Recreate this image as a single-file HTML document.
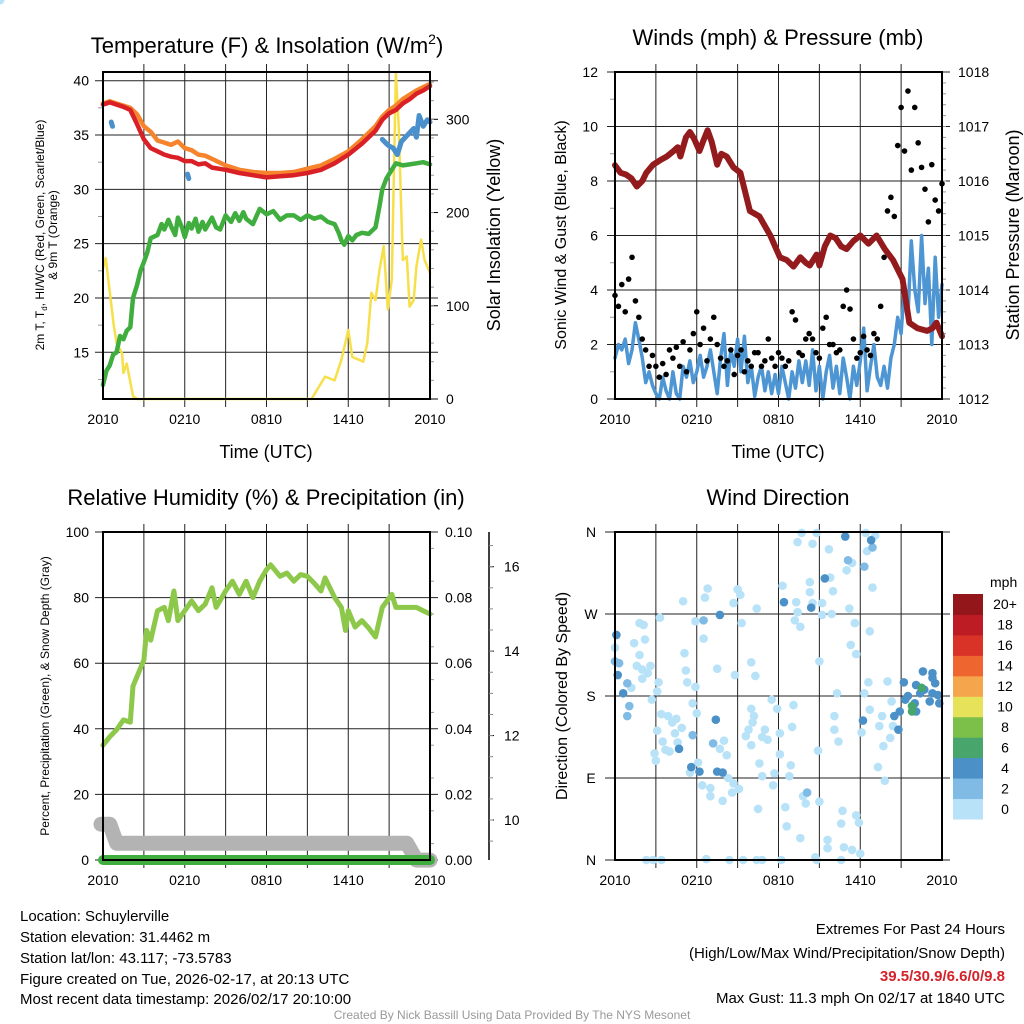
<!DOCTYPE html>
<html><head><meta charset="utf-8">
<style>
html,body{margin:0;padding:0;background:#fff;}
svg{display:block;font-family:"Liberation Sans",Arial,sans-serif;}
</style></head>
<body>
<svg id="c" width="1024" height="1024" viewBox="0 0 1024 1024" xmlns="http://www.w3.org/2000/svg">
<rect x="0" y="0" width="1024" height="1024" fill="#fff"/>
<text x="267" y="53" font-size="22" text-anchor="middle">Temperature (F) &amp; Insolation (W/m<tspan font-size="14" dy="-9">2</tspan><tspan dy="9">)</tspan></text>
<text x="778" y="45" font-size="22" text-anchor="middle">Winds (mph) &amp; Pressure (mb)</text>
<text x="266" y="505" font-size="22" text-anchor="middle">Relative Humidity (%) &amp; Precipitation (in)</text>
<text x="778" y="505" font-size="22" text-anchor="middle">Wind Direction</text>
<text x="266" y="458" font-size="18" text-anchor="middle">Time (UTC)</text>
<text x="778" y="458" font-size="18" text-anchor="middle">Time (UTC)</text>
<text transform="translate(44,235) rotate(-90)" font-size="12" text-anchor="middle">2m T, T<tspan font-size="8" dy="3">d</tspan><tspan dy="-3">, HI/WC (Red, Green, Scarlet/Blue)</tspan></text>
<text transform="translate(57,235) rotate(-90)" font-size="12" text-anchor="middle">&amp; 9m T (Orange)</text>
<text transform="translate(500,235) rotate(-90)" font-size="18" text-anchor="middle">Solar Insolation (Yellow)</text>
<text transform="translate(566,235) rotate(-90)" font-size="16" text-anchor="middle">Sonic Wind &amp; Gust (Blue, Black)</text>
<text transform="translate(1019,235) rotate(-90)" font-size="18" text-anchor="middle">Station Pressure (Maroon)</text>
<text transform="translate(49,696) rotate(-90)" font-size="12" text-anchor="middle">Percent, Precipitation (Green), &amp; Snow Depth (Gray)</text>
<text transform="translate(567,696) rotate(-90)" font-size="16" text-anchor="middle">Direction (Colored By Speed)</text>
<g font-size="15">
<text x="20" y="921">Location: Schuylerville</text>
<text x="20" y="942">Station elevation: 31.4462 m</text>
<text x="20" y="963">Station lat/lon: 43.117; -73.5783</text>
<text x="20" y="984">Figure created on Tue, 2026-02-17, at 20:13 UTC</text>
<text x="20" y="1004">Most recent data timestamp: 2026/02/17 20:10:00</text>
</g>
<g font-size="15" text-anchor="end">
<text x="1005" y="934">Extremes For Past 24 Hours</text>
<text x="1005" y="958">(High/Low/Max Wind/Precipitation/Snow Depth)</text>
<text x="1005" y="981" font-weight="bold" fill="#d3222a">39.5/30.9/6.6/0/9.8</text>
<text x="1005" y="1003">Max Gust: 11.3 mph On 02/17 at 1840 UTC</text>
</g>
<text x="512" y="1019" font-size="12" fill="#999" text-anchor="middle">Created By Nick Bassill Using Data Provided By The NYS Mesonet</text>
</svg>
<script>
const tempHours = [0,0.5,1,1.5,2,2.5,3,3.5,4,4.5,5,5.5,6,6.5,7,7.5,8,9,10,11,12,13,14,15,16,17,18,19,20,20.5,21,21.5,22,22.5,23,23.5,24];
const airTemp = [37.8,38.0,37.8,37.6,37.3,36.0,34.6,33.8,33.5,33.2,33.0,32.9,32.6,32.6,32.3,32.4,32.0,31.8,31.5,31.3,31.1,31.2,31.3,31.5,31.8,32.4,33.2,34.2,35.4,36.4,37.0,37.3,37.9,38.3,38.8,39.1,39.5];
const temp9m = [37.9,38.1,37.9,37.7,37.5,36.9,35.8,35.3,34.5,34.3,34.1,34.4,33.8,33.6,33.2,33.1,32.8,32.2,31.8,31.6,31.5,31.5,31.6,31.9,32.2,32.8,33.5,34.6,35.8,36.7,37.3,37.7,38.3,38.7,39.1,39.4,39.7];
const dewHours = [0,0.25,0.5,0.75,1,1.25,1.5,1.75,2,2.2,2.5,2.75,3,3.25,3.5,4,4.3,4.5,4.8,5,5.3,5.5,5.8,6,6.3,6.5,6.8,7,7.3,7.5,8,8.3,8.6,9,9.4,9.7,10,10.3,10.5,11,11.5,12,12.5,13,13.5,14,14.5,15,15.5,16,16.5,17,17.3,17.5,17.7,18,18.3,18.6,19,19.5,20,20.3,20.5,20.8,21,21.5,22,22.5,23,23.5,24];
const dewPoint = [12,13.3,13.8,14.8,15,16.5,16.2,17,17.3,20,21.2,22.5,23.3,24.2,25.5,25.8,26.8,26.3,27.2,26.6,25.8,27.4,26.5,25.6,26.9,26.4,27.3,26.1,27.0,26.3,27.4,26.5,26.3,27.6,27.0,27.8,27.1,27.9,27.3,26.8,28.2,27.7,28.0,27.2,27.6,27.6,27.2,27.6,27.3,27.5,27.0,26.8,26.0,25.3,24.9,25.7,25.3,25.8,26.0,25.9,26.5,28.5,30.0,31.0,31.4,32.4,32.2,32.3,32.4,32.5,32.3];
const hiwcSegHours = [[0.6,0.7],[6.2,6.3],[20.5,20.8,21.0,21.3,21.6,21.9,22.2,22.5,22.8,23.0,23.2,23.5,23.8,24]];
const hiwcSegVals = [[36.2,35.8],[31.4,31.0],[34.6,34.2,34.0,33.8,33.2,34.4,34.8,35.2,35.6,34.8,36.8,35.8,36.4,36.2]];
const solarHours = [0,0.2,0.8,1,1.4,1.5,1.75,2.2,2.5,15.3,16.3,17,17.5,18,18.3,18.8,19.1,19.4,19.7,20,20.3,20.6,20.9,21.2,21.5,21.7,22,22.3,22.5,22.8,23,23.35,23.6,24];
const solarVals = [140,151,78,60,49,28,38,3,0,0,24,20,42,74,45,42,40,60,114,106,139,164,96,128,350,293,149,153,99,106,142,171,149,135];
const tempTicks = [15,20,25,30,35,40];
const solarTicks = [0,100,200,300];
const timeTickLabels = ['2010','0210','0810','1410','2010'];
const timeTickHours = [0,6,12,18,24];

const windSpeed = [1.5,2.0,1.8,2.2,1.3,1.8,2.8,2.2,1.5,0.6,1.0,0.5,0.2,0,0.8,0.3,0,1.0,0.2,0,1.2,0.8,1.4,0.6,1.0,1.6,0.8,1.2,1.8,1.0,0.2,1.5,2.4,0.5,1.8,1.2,2.2,1.0,2.3,0.6,1.2,0.1,0.8,1.2,0.3,1.0,0.2,0.9,0.2,1.2,0.6,0,1.0,0.4,1.4,0.6,1.4,0.5,1.8,0.3,1.2,0,1.0,1.6,0.4,1.2,0.2,1.5,0.8,0,1.2,0.5,1.4,2.6,0.3,1.2,2.0,0.8,0.5,1.2,0.4,1.5,2.0,3.0,2.4,4.2,3.0,5.8,4.0,3.2,6.0,3.5,4.8,2.0,5.2,3.0,4.2];
const windGust = [3.8,3.4,4.2,3.2,4.4,5.2,3.6,3.0,2.2,1.8,1.2,1.6,1.2,0.8,1.3,0.9,1.8,1.5,1.9,1.2,2.1,1.0,1.8,2.4,3.2,2.0,2.6,1.4,2.2,3.0,2.0,1.5,1.2,1.4,1.8,0.9,1.6,1.8,1.0,1.4,1.2,1.7,1.7,1.2,1.4,2.2,1.5,1.2,1.7,1.5,1.2,1.4,3.2,2.9,1.7,1.6,2.2,2.4,2.2,1.7,1.5,2.6,3.0,2.0,2.0,1.7,1.8,3.4,4.0,3.3,2.2,1.5,1.7,2.3,1.8,1.6,2.4,2.2,3.4,5.2,6.9,7.4,6.7,9.3,10.7,9.1,11.3,8.4,10.7,9.4,8.5,7.7,6.5,8.6,7.3,6.9,7.9];
const presHours = [0,0.4,0.8,1.2,1.6,2.0,2.3,2.8,3.3,3.8,4.3,4.6,4.8,5.2,5.5,5.8,6.2,6.5,6.8,7.1,7.5,7.8,8.2,8.7,9.2,9.9,10.6,11.4,12.1,12.6,13.1,13.6,14.0,14.3,14.8,15.0,15.4,15.8,16.2,16.6,17.0,17.5,18.0,18.6,19.2,19.8,20.4,21.1,21.6,22.2,22.9,23.3,23.6,24];
const pressure = [1016.29,1016.15,1016.12,1016.05,1015.9,1016.0,1016.15,1016.3,1016.38,1016.45,1016.55,1016.62,1016.45,1016.8,1016.9,1016.78,1016.55,1016.75,1016.93,1016.72,1016.3,1016.5,1016.45,1016.25,1016.15,1015.45,1015.35,1015.0,1014.6,1014.55,1014.43,1014.6,1014.5,1014.45,1014.65,1014.45,1014.8,1015.0,1014.95,1014.8,1014.75,1014.9,1015.0,1014.85,1015.0,1014.75,1014.55,1014.2,1013.4,1013.3,1013.25,1013.3,1013.4,1013.15];
const windTicks = [0,2,4,6,8,10,12];
const presTicks = [1012,1013,1014,1015,1016,1017,1018];

const rhHours = [0,0.5,1,1.5,2,2.2,2.7,3,3.2,3.5,4,4.5,4.8,5.2,5.5,6,6.5,7,7.5,8,8.3,9,9.5,10,10.5,11,11.5,12,12.3,13,13.5,14,14.5,15,15.5,16,16.3,17,17.5,17.8,18,18.5,19,19.5,20,20.5,21.2,21.5,22,23,23.5,24];
const rhVals = [35,37.6,39.7,42.7,42,53,58,61,70,67,76,77,73,82,73,76,79,76,78,83,77,82,85,81,85,80,85,88.5,90,86.5,87.5,85,87,86.5,84.4,82,86,80,77,70,76,71,73,70.7,68,77,81,77,77,77,76,75];
const snowHours = [-0.15,0.5,1,22.3,23,24];
const snowDepth = [9.9,9.9,9.45,9.45,9.05,9.05];
const precipHours = [0,24];
const precipVals = [0,0];
const rhTicks = [0,20,40,60,80,100];
const precipTicks = [0,0.02,0.04,0.06,0.08,0.10];
const snowTicks = [10,12,14,16];

const dirHours = [0.1,0,0.2,0.3,0.9,0.6,1.05,0.9,6.5,7.7,7.4,5.7,7.2,4.7,5.6,6.2,7.5,7.9,12.4,14.4,15.4,16.9,17.1,18.8,18.9,18.3,18.2,14.1,21.2,21.5,21.3,20.9,22,22.1,22.1,22.6,22.7,23.1,23.3,23.5,23.7,23.8,23.3,22.4,20.5,20.8,23.3,22.5,21.8,21.8,
0,1.4,1.8,2.1,2.2,1.8,1.6,2.0,2.6,2.4,2.0,1.2,3.3,5.0,5.9,6.5,6.6,6.8,5.1,5.2,5.3,5.9,3.2,3.1,2.7,3.4,3.9,4.5,4.2,4.9,4.4,3.5,3.7,4.0,4.6,2.9,3.0,3.1,5.7,6.0,5.5,6.1,6.4,7.0,7.0,7.9,7.5,8.0,7.7,8.2,8.3,8.7,8.6,9.1,8.8,8.7,9.0,9.2,9.3,10.4,10.0,10.3,10.0,10.2,10.1,9.8,9.6,10.0,10.8,11.0,11.2,11.5,11.9,12.1,12.1,10.6,10.8,11.7,11.6,10.5,12.5,12.6,13.6,12.3,13.3,13.4,13.2,13.6,13.4,13.7,14.5,14.8,15.7,14.3,14.3,14.5,15.2,15.2,15.8,16.0,15.9,15.0,16.3,16.1,16.1,16.4,14.9,15.0,13.8,14.0,12.9,12.8,13.1,13.0,17.0,17.4,17.2,17.6,17.3,17.7,18.5,18.4,19.1,18.9,18.7,18.3,18.6,18.7,18.1,19.3,19.8,19.7,20.2,19.4,19.6,20.3,20.0,20.4,16.7,16.6,17.7,17.9,15.6,15.6,16.8,17.4,18.0,16.6,14.7,14.8,12.2,10.8,10.4,9.4,8.4,6.7,3.4,2.8,2.3];
const dirDegrees = [247,218,203,216,194,183,169,158,263,269,154,137,128,122,102,97,97,96,283,277,309,355,329,351,343,322,153,74,195,180,176,163,172,163,192,207,187,174,200,194,181,172,183,183,158,143,205,189,169,163,
233,238,260,258,242,225,213,209,213,205,199,189,266,284,262,243,288,298,227,208,195,190,195,185,176,160,158,155,151,145,139,130,121,119,129,117,109,142,172,161,96,107,82,79,70,65,210,131,122,115,90,84,74,78,203,282,297,291,260,276,217,202,166,158,151,143,136,126,135,143,132,176,166,139,116,106,92,95,82,56,58,37,24,301,283,272,263,256,349,359,347,359,341,305,294,282,282,269,310,295,270,218,183,158,143,130,120,64,70,62,104,92,170,146,318,326,276,260,236,226,339,359,356,299,251,183,195,165,140,102,87,125,134,147,158,174,196,147,54,40,49,41,22,13,14,11,7,0,3,0,0,0,0,0,0,1,0,0,0];
const dirSpeed = [4.5,3.5,4.5,3.5,3.5,4.5,3.5,3.5,3.5,4.5,4.5,3.5,3.5,4.5,4.5,4.5,4.5,4.5,4.5,4.5,4.5,4.5,3.5,4.5,3.5,3.5,4.5,3.5,4.5,4.5,4.5,4.5,4.5,4.5,4.5,4.5,4.5,4.5,4.5,4.5,4.5,4.5,4.5,4.5,4.5,4.5,4.5,7,7,7,
1,1,1,1,1,1,1,1,1,1,1,1,1,1,1,1,1,1,1,1,1,1,1,1,1,1,1,1,1,1,1,1,1,1,1,1,1,1,1,1,1,1,1,1,1,1,1,1,1,1,1,1,1,1,1,1,1,1,1,1,1,1,1,1,1,1,1,1,1,1,1,1,1,1,1,1,1,1,1,1,1,1,1,1,1,1,1,1,1,1,1,1,1,1,1,1,1,1,1,1,1,1,1,1,1,1,1,1,1,1,1,1,1,1,1,1,1,1,1,1,1,1,1,1,1,1,1,1,1,1,1,1,1,1,1,1,1,1,1,1,1,1,1,1,1,1,1,1,1,1,1,1,1,1,1,1,1,1,1,1,1,1,1,1,1,1];
const dirTickLabels = ['N','E','S','W','N'];
const dirTickValues = [0,90,180,270,360];
const cbarLabels = ['0','2','4','6','8','10','12','14','16','18','20+'];
const cbarColors = ['#b8e2f8','#7fbbe4','#4b91c8','#48a56c','#7cc04a','#e6e25a','#f5a54b','#ef6530','#d93328','#bd1c24','#93161a'];

const NS='http://www.w3.org/2000/svg';
const svg=document.getElementById('c');
function mk(tag,attrs,parent){const e=document.createElementNS(NS,tag);for(const k in attrs)e.setAttribute(k,attrs[k]);(parent||svg).appendChild(e);return e;}
function lin(d0,d1,r0,r1){return v=>r0+(v-d0)/(d1-d0)*(r1-r0);}

function panel(name,L,R,T,B){
  const g=mk('g',{});
  
  
  const xs=lin(0,24,L,R);
  const grid=mk('g',{stroke:'#222','stroke-width':1},g);
  
  
  for(let h=3;h<24;h+=3){mk('line',{x1:xs(h),x2:xs(h),y1:T-8,y2:B+8},grid);}
  for(let i=0;i<timeTickLabels.length;i++){
    const t=mk('text',{x:xs(timeTickHours[i]),y:B+25,'font-size':14,'text-anchor':'middle'},g);
    t.textContent=timeTickLabels[i];
    
    
  }
  return {g,xs,grid};
}
function box(g,L,R,T,B){const r=mk('rect',{x:L,y:T,width:R-L,height:B-T,fill:'none',stroke:'#000','stroke-width':2},g);}
function line(g,xa,ya,xs,ys,color,w,name){
  const p=xa.map((h,i)=>xs(h).toFixed(1)+','+ys(ya[i]).toFixed(1)).join(' ');
  const l=mk('polyline',{points:p,fill:'none',stroke:color,'stroke-width':w,'stroke-linejoin':'round','stroke-linecap':'round'},g);
  
  
  return l;
}

(function(){
  const L=103,R=430,T=72,B=399;
  const {g,xs,grid}=panel('temperature-panel',L,R,T,B);
  const ys=lin(15,40,352.3,80.7), ys2=lin(0,300,399,119.3);
  tempTicks.forEach(v=>{mk('line',{x1:L-8,x2:R+8,y1:ys(v),y2:ys(v)},grid);
    const t=mk('text',{x:L-14,y:ys(v)+5,'font-size':14,'text-anchor':'end'},g);t.textContent=v;
    });
  for(let v=12.5;v<41;v+=5){mk('line',{x1:L-5,x2:L,y1:ys(v),y2:ys(v),stroke:'#999'},g);}
  solarTicks.forEach(v=>{mk('line',{x1:R,x2:R+8,y1:ys2(v),y2:ys2(v),stroke:'#000'},g);
    const t=mk('text',{x:R+16,y:ys2(v)+5,'font-size':14},g);t.textContent=v;
    });
  for(let v=20;v<350;v+=20){mk('line',{x1:R,x2:R+4,y1:ys2(v),y2:ys2(v),stroke:'#999'},g);}
  line(g,solarHours,solarVals,xs,ys2,'#f7df4a',2.5,'solar-insolation-line');
  line(g,dewHours,dewPoint,xs,ys,'#3fae3f',4.5,'dewpoint-line');
  line(g,tempHours,temp9m,xs,ys,'#f5842c',4.5,'temp-9m-line');
  line(g,tempHours,airTemp,xs,ys,'#d92027',4.5,'temp-2m-line');
  hiwcSegHours.forEach((hs,i)=>line(g,hs,hiwcSegVals[i],xs,ys,'#4990cc',5,'heat-index-windchill-line'));
  box(g,L,R,T,B);
})();

(function(){
  const L=615,R=942,T=72,B=399;
  const {g,xs,grid}=panel('wind-panel',L,R,T,B);
  const ys=lin(0,12,B,T), yp=lin(1012,1018,B,T);
  windTicks.forEach(v=>{mk('line',{x1:L-8,x2:R+8,y1:ys(v),y2:ys(v)},grid);
    const t=mk('text',{x:L-17,y:ys(v)+5,'font-size':14,'text-anchor':'end'},g);t.textContent=v;
    });
  presTicks.forEach(v=>{const t=mk('text',{x:R+16,y:yp(v)+5,'font-size':14},g);t.textContent=v;
    });
  for(let v=1012.2;v<1018;v+=0.2){mk('line',{x1:R,x2:R+4,y1:yp(v),y2:yp(v),stroke:'#999'},g);}
  for(let v=1;v<12;v+=2){mk('line',{x1:L-5,x2:L,y1:ys(v),y2:ys(v),stroke:'#999'},g);}
  const hrs=windSpeed.map((_,i)=>i*0.25);
  line(g,hrs,windSpeed,xs,ys,'#4d96d3',3.5,'sonic-wind-line');
  windGust.forEach((v,i)=>{const c=mk('circle',{cx:xs(i*0.25),cy:ys(v),r:2.8,fill:'#000'},g);
    });
  line(g,presHours,pressure,xs,yp,'#931a1d',6,'pressure-line');
  box(g,L,R,T,B);
})();

(function(){
  const L=103,R=430,T=532,B=860;
  const {g,xs,grid}=panel('humidity-panel',L,R,T,B);
  const ys=lin(0,100,B,T), yp=lin(0,0.1,B,T), yd=lin(10,16,820,566.7);
  rhTicks.forEach(v=>{mk('line',{x1:L-8,x2:R+8,y1:ys(v),y2:ys(v)},grid);
    const t=mk('text',{x:L-14,y:ys(v)+5,'font-size':14,'text-anchor':'end'},g);t.textContent=v;
    });
  precipTicks.forEach(v=>{const t=mk('text',{x:R+15,y:yp(v)+5,'font-size':14},g);t.textContent=v.toFixed(2);
    });
  for(let v=0.005;v<0.1;v+=0.01){mk('line',{x1:R,x2:R+4,y1:yp(v),y2:yp(v),stroke:'#999'},g);}
  const ax=mk('line',{x1:489,x2:489,y1:T,y2:B,stroke:'#000','stroke-width':1.5},g);
  
  snowTicks.forEach(v=>{mk('line',{x1:489,x2:494,y1:yd(v),y2:yd(v),stroke:'#000'},g);
    const t=mk('text',{x:504,y:yd(v)+5,'font-size':14},g);t.textContent=v;
    });
  for(let v=9.5;v<17;v+=0.5){mk('line',{x1:489,x2:493,y1:yd(v),y2:yd(v),stroke:'#888'},g);}
  line(g,snowHours,snowDepth,xs,yd,'#b3b3b3',15,'snow-depth-line');
  line(g,precipHours,precipVals,xs,yp,'#3fae3f',10,'precipitation-line');
  line(g,rhHours,rhVals,xs,ys,'#8dc84b',5,'relative-humidity-line');
  box(g,L,R,T,B);
})();

(function(){
  const L=615,R=942,T=532,B=860;
  const {g,xs,grid}=panel('wind-direction-panel',L,R,T,B);
  const ys=lin(0,360,B,T);
  dirTickValues.forEach((v,i)=>{mk('line',{x1:L-10,x2:R+8,y1:ys(v),y2:ys(v)},grid);
    const t=mk('text',{x:L-24,y:ys(v)+5,'font-size':14,'text-anchor':'middle'},g);t.textContent=dirTickLabels[i];
    });
  function col(s){let i=Math.min(10,Math.floor(s/2));return cbarColors[i];}
  const order=dirSpeed.map((s,i)=>i).sort((a,b)=>dirSpeed[a]-dirSpeed[b]);
  order.forEach(i=>{const c=mk('circle',{cx:xs(dirHours[i]),cy:ys(dirDegrees[i]),r:4.3,fill:col(dirSpeed[i])},g);
    });
  box(g,L,R,T,B);
  const cb=mk('g',{},svg);
  
  const mph=mk('text',{x:990,y:587,'font-size':14},cb);mph.textContent='mph';
  
  const h=(819-594)/cbarColors.length;
  cbarColors.forEach((c,i)=>{const y=819-(i+1)*h;
    const r=mk('rect',{x:953,y:y,width:30,height:h+0.5,fill:c},cb);
    
    const t=mk('text',{x:1005,y:y+h/2+5,'font-size':14,'text-anchor':'middle'},cb);t.textContent=cbarLabels[i];
    });
})();
</script>
</body></html>
